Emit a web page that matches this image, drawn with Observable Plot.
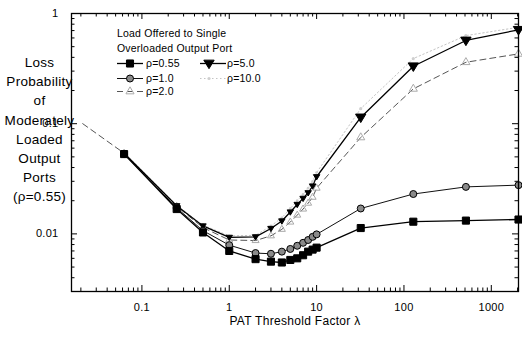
<!DOCTYPE html>
<html><head><meta charset="utf-8">
<script src="https://cdn.jsdelivr.net/npm/d3@7"></script>
<script src="https://cdn.jsdelivr.net/npm/@observablehq/plot@0.6"></script>
<style>body{margin:0;background:#fff}</style>
</head><body><div id="chart"></div>
<script>
// ---- data ----
const thresholds = [1/16, 0.25, 0.5, 1, 2, 3, 4, 5, 6, 7, 8, 9, 10, 32, 128, 512, 2048];
const seriesNames = ["ρ=0.55", "ρ=1.0", "ρ=2.0", "ρ=5.0", "ρ=10.0"];
const lossRho055 = [0.053, 0.0168, 0.0103, 0.0070, 0.0059, 0.0056, 0.0055, 0.0058, 0.0060, 0.0064, 0.0069, 0.0072, 0.0075, 0.0113, 0.0129, 0.0132, 0.0135];
const lossRho1 = [0.053, 0.0172, 0.0107, 0.0079, 0.0067, 0.0066, 0.0069, 0.0073, 0.0078, 0.0083, 0.0088, 0.0094, 0.0099, 0.0170, 0.0230, 0.0267, 0.0277];
const lossRho2 = [0.054, 0.0178, 0.0114, 0.0088, 0.0087, 0.0096, 0.0110, 0.0128, 0.0148, 0.0168, 0.0190, 0.0215, 0.0260, 0.075, 0.207, 0.361, 0.43];
const lossRho5 = [0.054, 0.0180, 0.0118, 0.0093, 0.0094, 0.0112, 0.0131, 0.0158, 0.0185, 0.0210, 0.0236, 0.0272, 0.0330, 0.114, 0.332, 0.569, 0.711];
const lossRho10 = [0.055, 0.0182, 0.0120, 0.0096, 0.0097, 0.0118, 0.0140, 0.0170, 0.0200, 0.0228, 0.0260, 0.0300, 0.0360, 0.137, 0.39, 0.63, 0.75];
const leadInX = [0.021];
const leadInY = [0.1];
const xMajorTicks = [0.1, 1, 10, 100, 1000];
const xTickLabels = ["0.1", "1", "10", "100", "1000"];
const yMajorTicks = [1, 0.1, 0.01];
const yTickLabels = ["1", "0.1", "0.01"];
const xMinorTicks = [0.02,0.03,0.04,0.05,0.06,0.07,0.08,0.09,0.2,0.3,0.4,0.5,0.6,0.7,0.8,0.9,2,3,4,5,6,7,8,9,20,30,40,50,60,70,80,90,200,300,400,500,600,700,800,900,2000];
const yMinorTicks = [0.9,0.8,0.7,0.6,0.5,0.4,0.3,0.2,0.09,0.08,0.07,0.06,0.05,0.04,0.03,0.02,0.009,0.008,0.007,0.006,0.005,0.004,0.003];
const xTitle = "PAT Threshold Factor λ";
const yTitle = "Loss\nProbability\nof\nModerately\nLoaded\nOutput\nPorts\n(ρ=0.55)";
const legendTitle = ["Load Offered to Single", "Overloaded Output Port"];

const seriesValues = [lossRho055, lossRho1, lossRho2, lossRho5, lossRho10];

// ---- layout / styles ----
const W = 522, H = 338, mL = 71, mR = 4, mT = 13, mB = 47;
const pw = W - mL - mR, ph = H - mT - mB;
const triDown = {draw(ctx, size) {
  const r = Math.sqrt(size / Math.PI);
  ctx.moveTo(-r * 1.15, -r * 0.75); ctx.lineTo(r * 1.15, -r * 0.75); ctx.lineTo(0, r * 1.15); ctx.closePath();
}};
const styles = {
  "ρ=0.55": {stroke: "#000", sw: 1.3, dash: null, symbol: "square", r: 4, rSmall: 4, fill: "#000", mstroke: "#000"},
  "ρ=1.0": {stroke: "#111", sw: 1.0, dash: null, symbol: "circle", r: 3.5, rSmall: 3.5, fill: "#8a8a8a", mstroke: "#000"},
  "ρ=2.0": {stroke: "#555", sw: 1.0, dash: "6,4", symbol: "triangle", r: 3, rSmall: 2.6, fill: "none", mstroke: "#aaa"},
  "ρ=5.0": {stroke: "#000", sw: 1.3, dash: null, symbol: triDown, r: 4.5, rSmall: 2.8, fill: "#000", mstroke: "#000"},
  "ρ=10.0": {stroke: "#c4c4c4", sw: 1.0, dash: "1.5,2.5", symbol: "circle", r: 1.6, rSmall: 1.4, fill: "#cfcfcf", mstroke: "none"}
};

const rows = [];
seriesNames.forEach((name, i) => {
  if (name === "ρ=2.0") leadInX.forEach((x, k) => rows.push({series: name, x, y: leadInY[k], lead: true}));
  thresholds.forEach((t, j) => rows.push({series: name, x: t, y: seriesValues[i][j], lead: false}));
});

const seriesMarks = [];
const drawOrder = ["ρ=10.0", "ρ=2.0", "ρ=5.0", "ρ=1.0", "ρ=0.55"];
for (const name of drawOrder) {
  const s = styles[name];
  const data = rows.filter(d => d.series === name);
  seriesMarks.push(Plot.line(data, {x: "x", y: "y", stroke: s.stroke, strokeWidth: s.sw, strokeDasharray: s.dash}));
}
for (const name of drawOrder) {
  const s = styles[name];
  const data = rows.filter(d => d.series === name && !d.lead);
  seriesMarks.push(Plot.dot(data, {x: "x", y: "y", symbol: s.symbol, r: d => d.x > 10 ? s.r : s.rSmall,
    fill: s.fill, stroke: s.mstroke, strokeWidth: 1}));
}

const font = "'Liberation Sans', Arial, Helvetica, sans-serif";
const svg = Plot.plot({
  width: W, height: H, marginLeft: mL, marginRight: mR, marginTop: mT, marginBottom: mB,
  x: {type: "log", domain: [1/64, 2048]},
  y: {type: "log", domain: [0.003, 1]},
  r: {type: "identity"},
  style: {fontFamily: font, background: "white", color: "black", overflow: "visible"},
  marks: [
    Plot.tickX(xMajorTicks, {x: d => d, insetTop: ph - 6, stroke: "#000"}),
    Plot.tickX(xMajorTicks, {x: d => d, insetBottom: ph - 6, stroke: "#000"}),
    Plot.tickX(xMinorTicks, {x: d => d, insetTop: ph - 3.5, stroke: "#000"}),
    Plot.tickX(xMinorTicks, {x: d => d, insetBottom: ph - 3.5, stroke: "#000"}),
    Plot.tickY(yMajorTicks, {y: d => d, insetRight: pw - 6, stroke: "#000"}),
    Plot.tickY(yMajorTicks, {y: d => d, insetLeft: pw - 6, stroke: "#000"}),
    Plot.tickY(yMinorTicks, {y: d => d, insetRight: pw - 3.5, stroke: "#000"}),
    Plot.tickY(yMinorTicks, {y: d => d, insetLeft: pw - 3.5, stroke: "#000"}),
    Plot.axisX(xMajorTicks, {anchor: "bottom", tickSize: 0, tickPadding: 12, label: null, fontSize: 11,
      tickFormat: d => xTickLabels[xMajorTicks.indexOf(d)]}),
    Plot.axisY(yMajorTicks, {anchor: "left", tickSize: 0, tickPadding: 13, label: null, fontSize: 11,
      tickFormat: d => yTickLabels[yMajorTicks.indexOf(d)]}),
    ...seriesMarks,
    Plot.frame({stroke: "#000", strokeWidth: 1.3}),
    Plot.text([xTitle], {text: d => d, frameAnchor: "bottom", dy: 33, fontSize: 12, fill: "#000"}),
    Plot.text([yTitle], {text: d => d, frameAnchor: "top-left", dx: -32, dy: 40, lineAnchor: "top",
      textAnchor: "middle", fontSize: 13.5, lineHeight: 1.42, fill: "#000"})
  ]
});
svg.querySelectorAll("text").forEach(t => t.style.letterSpacing = "0.3px");

// ---- legend ----
const lg = d3.select(svg).append("g").attr("font-family", font).attr("font-size", 10.5)
  .attr("fill", "#000").attr("text-anchor", "start").style("letter-spacing", "0.2px");
lg.append("text").attr("x", 117).attr("y", 37).text(legendTitle[0]);
lg.append("text").attr("x", 117).attr("y", 52).text(legendTitle[1]);
const slots = {"ρ=0.55": [0, 0], "ρ=1.0": [0, 1], "ρ=2.0": [0, 2], "ρ=5.0": [1, 0], "ρ=10.0": [1, 1]};
const colX = [[117, 143, 130, 146], [200, 226, 209, 227]];
const rowY = [63.5, 78.5, 91.5];
for (const name of seriesNames) {
  const s = styles[name];
  const [c, r] = slots[name];
  const [x1, x2, mx, tx] = colX[c];
  const y = rowY[r];
  lg.append("line").attr("x1", x1).attr("x2", x2).attr("y1", y).attr("y2", y)
    .attr("stroke", s.stroke).attr("stroke-width", s.sw).attr("stroke-dasharray", s.dash);
  const typ = s.symbol === "square" ? d3.symbolSquare : s.symbol === "circle" ? d3.symbolCircle : s.symbol === "triangle" ? d3.symbolTriangle : s.symbol;
  lg.append("path").attr("d", d3.symbol(typ, Math.PI * s.r * s.r)()).attr("transform", `translate(${mx},${y})`)
    .attr("fill", s.fill).attr("stroke", s.mstroke);
  lg.append("text").attr("x", tx).attr("y", y).attr("dy", "0.35em").text(name);
}
document.getElementById("chart").append(svg);
</script>
</body></html>
